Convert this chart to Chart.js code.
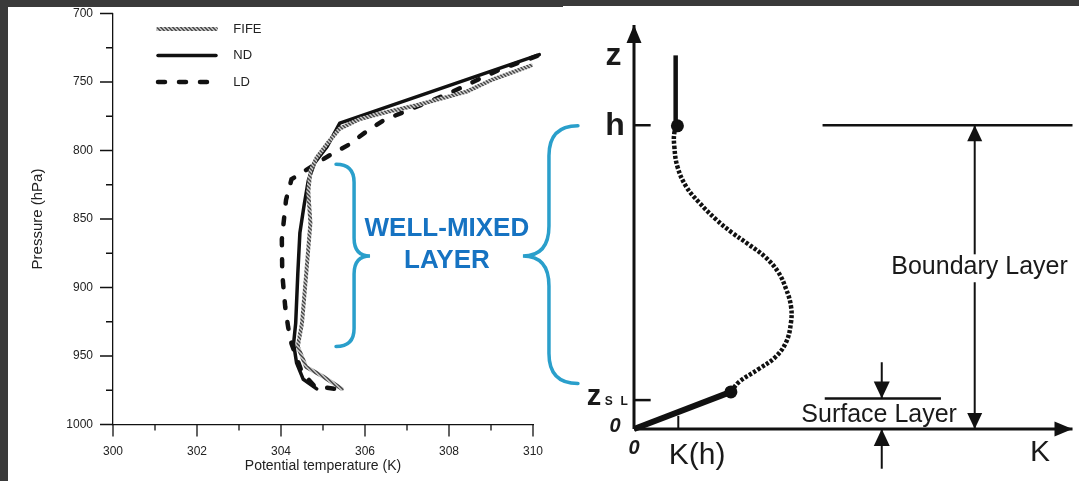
<!DOCTYPE html>
<html>
<head>
<meta charset="utf-8">
<script src="https://cdn.jsdelivr.net/npm/chart.js@4.4.1/dist/chart.umd.min.js"></script>
<style>
  html, body { margin: 0; padding: 0; background: #3a3a3a; width: 1079px; height: 481px; overflow: hidden; }
  .panel { position: absolute; background: #fff; }
  #leftPanel { left: 8px; top: 7px; width: 555px; height: 474px; }
  #rightPanel { left: 563px; top: 6px; width: 516px; height: 475px; }
  #leftChart { position: absolute; left: 8px; top: 7px; z-index: 2; }
  #rightChart { position: absolute; left: 563px; top: 6px; z-index: 1; }
</style>
</head>
<body>
<div class="panel" id="leftPanel"></div>
<div class="panel" id="rightPanel"></div>
<canvas id="rightChart" width="516" height="475"></canvas>
<canvas id="leftChart" width="582" height="474"></canvas>
<script>
const FONT = "'Liberation Sans', Arial, Helvetica, sans-serif";

// ---- left: potential temperature profiles ----
const tempTicks = [300, 302, 304, 306, 308, 310];
const presTicks = [700, 750, 800, 850, 900, 950, 1000];

const fifeTemp = [309.95, 309.05, 308.42, 307.94, 307.23, 306.51, 305.88, 305.4, 305.1, 304.85, 304.7, 304.65, 304.7, 304.6, 304.5, 304.4, 304.6, 305.0, 305.45];
const fifePres = [738, 748, 757, 761, 767, 772, 777, 784, 795, 805, 815, 830, 853, 890, 926, 943, 958, 965, 974];

const ndTemp = [310.15, 305.4, 305.1, 304.8, 304.65, 304.55, 304.45, 304.4, 304.35, 304.3, 304.37, 304.53, 304.85];
const ndPres = [730, 780, 797, 809, 822, 840, 860, 890, 926, 941, 955, 967, 974];

const ldTemp = [310.1, 309.2, 308.78, 308.3, 307.87, 307.39, 306.44, 306.04, 305.6, 305.13, 304.25, 304.12, 304.02, 304.03, 304.1, 304.17, 304.25, 304.5, 304.8, 305.3];
const ldPres = [731, 741, 747, 754, 760, 766, 778, 786, 796, 804, 821, 836, 865, 890, 914, 929, 941, 962, 972, 974];

// ---- right: K profile schematic (K in units of K(h), z in units of h) ----
const profileK = [2.21, 2.39, 2.84, 3.22, 3.47, 3.58, 3.58, 3.47, 3.29, 3.0, 2.61, 2.23, 1.87, 1.49, 1.19, 0.99, 0.92, 0.92, 0.99];
const profileZ = [0.122, 0.154, 0.197, 0.236, 0.286, 0.351, 0.404, 0.46, 0.516, 0.565, 0.608, 0.647, 0.69, 0.745, 0.798, 0.864, 0.929, 0.975, 0.998];
const surfK = [0, 2.21], surfZ = [0, 0.122];
const aboveK = [0.95, 0.95], aboveZ = [1, 1.23];
const dotK = [2.21, 0.99], dotZ = [0.122, 0.998];
const zAxisK = [0, 0], zAxisZ = [0, 1.33];
const kAxisK = [0, 10], kAxisZ = [0, 0];
const hTickK = [0, 0.38], hTickZ = [1, 1];
const slTickK = [0, 0.38], slTickZ = [0.095, 0.095];
const khMarkK = [1.01, 1.01], khMarkZ = [0, 0.043];
const blTopK = [4.3, 10], blTopZ = [1, 1];
const slTopK = [4.35, 7.0], slTopZ = [0.1, 0.1];
const blUpK = [7.77, 7.77], blUpZ = [0.575, 1];
const blDownK = [7.77, 7.77], blDownZ = [0.483, 0];
const slDownK = [5.65, 5.65], slDownZ = [0.22, 0.1];
const slUpK = [5.65, 5.65], slUpZ = [-0.131, 0];

Chart.defaults.font.family = FONT;
Chart.defaults.color = '#222';

function pts(xs, ys) {
    return xs.map(function (x, i) { return { x: x, y: ys[i] }; });
}

function ropePattern() {
    let c = document.createElement('canvas');
    c.width = 4; c.height = 4;
    let g = c.getContext('2d');
    g.fillStyle = '#bdbdbd';
    g.fillRect(0, 0, 4, 4);
    g.fillStyle = '#555';
    for (let i = 0; i < 4; i++) {
        g.fillRect(i, i, 1, 1);
        g.fillRect((i + 1) % 4, i, 1, 1);
    }
    return g.createPattern(c, 'repeat');
}

function brace(ctx, xEnd, xSpine, xTip, yTop, yMid, yBot, r) {
    ctx.beginPath();
    ctx.moveTo(xEnd, yTop);
    ctx.quadraticCurveTo(xSpine, yTop, xSpine, yTop + r);
    ctx.lineTo(xSpine, yMid - r);
    ctx.quadraticCurveTo(xSpine, yMid, xTip, yMid);
    ctx.quadraticCurveTo(xSpine, yMid, xSpine, yMid + r);
    ctx.lineTo(xSpine, yBot - r);
    ctx.quadraticCurveTo(xSpine, yBot, xEnd, yBot);
    ctx.stroke();
}

// braces in data units of the left chart
const braceLeft = { tEnd: 305.31, tSpine: 305.74, tTip: 306.12, pTop: 810, pMid: 877, pBot: 943, r: 18 };
const braceRight = { tEnd: 311.07, tSpine: 310.38, tTip: 309.76, pTop: 782, pMid: 877, pBot: 970, r: 30 };

const leftDecor = {
    id: 'leftDecor',
    afterLayout(chart) {
        let a = chart.chartArea;
        chart.legend.left = a.left + 31.5;
        chart.legend.top = a.top - 4.5;
    },
    afterDraw(chart) {
        let ctx = chart.ctx, a = chart.chartArea, x = chart.scales.x, y = chart.scales.y;
        ctx.save();
        ctx.strokeStyle = '#111';
        ctx.lineWidth = 1.3;
        ctx.beginPath();
        tempTicks.forEach(function (t, i) {
            let px = x.getPixelForValue(t);
            ctx.moveTo(px, a.bottom); ctx.lineTo(px, a.bottom + 12);
            if (i < tempTicks.length - 1) {
                let mx = x.getPixelForValue((t + tempTicks[i + 1]) / 2);
                ctx.moveTo(mx, a.bottom); ctx.lineTo(mx, a.bottom + 6);
            }
        });
        presTicks.forEach(function (p, i) {
            let py = y.getPixelForValue(p);
            ctx.moveTo(a.left, py); ctx.lineTo(a.left - 13, py);
            if (i < presTicks.length - 1) {
                let my = y.getPixelForValue((p + presTicks[i + 1]) / 2);
                ctx.moveTo(a.left, my); ctx.lineTo(a.left - 7, my);
            }
        });
        ctx.stroke();

        ctx.strokeStyle = '#2a9fcb';
        ctx.lineWidth = 3.5;
        ctx.lineCap = 'round';
        [braceLeft, braceRight].forEach(function (b) {
            brace(ctx, x.getPixelForValue(b.tEnd), x.getPixelForValue(b.tSpine), x.getPixelForValue(b.tTip),
                y.getPixelForValue(b.pTop), y.getPixelForValue(b.pMid), y.getPixelForValue(b.pBot), b.r);
        });

        ctx.fillStyle = '#1673c2';
        ctx.font = 'bold 26px ' + FONT;
        ctx.textAlign = 'center';
        ctx.textBaseline = 'alphabetic';
        ctx.fillText('WELL-MIXED', x.getPixelForValue(307.95), y.getPixelForValue(862.4));
        ctx.fillText('LAYER', x.getPixelForValue(307.95), y.getPixelForValue(885.8));
        ctx.restore();
    }
};

let rope = ropePattern();

let leftChart = new Chart(document.getElementById('leftChart'), {
    type: 'scatter',
    data: {
        datasets: [{
            label: 'FIFE',
            data: pts(fifeTemp, fifePres),
            showLine: true, pointRadius: 0, clip: false,
            borderColor: rope, backgroundColor: rope,
            borderWidth: 4, borderCapStyle: 'round', borderJoinStyle: 'round'
        }, {
            label: 'ND',
            data: pts(ndTemp, ndPres),
            showLine: true, pointRadius: 0, clip: false,
            borderColor: '#111', backgroundColor: '#111',
            borderWidth: 3.5, borderCapStyle: 'round', borderJoinStyle: 'round'
        }, {
            label: 'LD',
            data: pts(ldTemp, ldPres),
            showLine: true, pointRadius: 0, clip: false,
            borderColor: '#111', backgroundColor: '#111',
            borderWidth: 4.5, borderDash: [7, 14], borderCapStyle: 'round'
        }]
    },
    options: {
        responsive: false,
        animation: false,
        layout: { padding: { left: 0, right: 57, top: 6.5, bottom: 0 } },
        scales: {
            x: {
                type: 'linear', min: 300, max: 310,
                grid: { display: false, drawTicks: false },
                border: { display: true, color: '#111', width: 1.3 },
                ticks: { padding: 20, color: '#222', font: { size: 12 }, maxRotation: 0, callback: function (v) { return String(v); } },
                afterBuildTicks: function (s) { s.ticks = tempTicks.map(function (v) { return { value: v }; }); },
                afterFit: function (s) { s.height = 56.5; s.paddingLeft = 0; s.paddingRight = 0; },
                title: { display: true, text: 'Potential temperature (K)', color: '#222', font: { size: 14 }, padding: { top: 0, bottom: 6.6 } }
            },
            y: {
                type: 'linear', min: 700, max: 1000, reverse: true,
                grid: { display: false, drawTicks: false },
                border: { display: true, color: '#111', width: 1.3 },
                ticks: { padding: 20, color: '#222', font: { size: 12 }, callback: function (v) { return String(v); } },
                afterBuildTicks: function (s) { s.ticks = presTicks.map(function (v) { return { value: v }; }); },
                afterFit: function (s) { s.width = 105; s.paddingTop = 0; s.paddingBottom = 0; },
                title: { display: true, text: 'Pressure (hPa)', color: '#222', font: { size: 15 }, padding: { top: 20.5, bottom: 0 } }
            }
        },
        plugins: {
            legend: {
                position: 'chartArea',
                align: 'start',
                fullSize: false,
                labels: {
                    usePointStyle: true, pointStyle: 'line', pointStyleWidth: 58,
                    boxHeight: 13, padding: 13.5, color: '#222', font: { size: 13 },
                    generateLabels: function (chart) {
                        let items = Chart.defaults.plugins.legend.labels.generateLabels(chart);
                        items.forEach(function (it, i) {
                            let ds = chart.data.datasets[i];
                            it.text = '   ' + it.text;
                            it.strokeStyle = ds.borderColor;
                            it.lineWidth = ds.borderWidth;
                            it.lineDash = ds.borderDash || [];
                            it.lineCap = ds.borderCapStyle;
                        });
                        return items;
                    }
                }
            },
            tooltip: { enabled: false }
        }
    },
    plugins: [leftDecor]
});

// ---- right chart ----
const diagramText = [
    { text: 'z', k: -0.47, z: 1.199, font: 'bold 32px' },
    { text: 'h', k: -0.43, z: 0.969, font: 'bold 32px' },
    { text: 'z', k: -0.91, z: 0.079, font: 'bold 29px' },
    { text: 'S', k: -0.574, z: 0.079, font: 'bold 12px' },
    { text: 'L', k: -0.225, z: 0.079, font: 'bold 12px' },
    { text: '0', k: -0.43, z: -0.01, font: 'italic bold 20px' },
    { text: '0', k: 0, z: -0.082, font: 'italic bold 20px' },
    { text: 'K(h)', k: 1.44, z: -0.115, font: '30px' },
    { text: 'K', k: 9.26, z: -0.105, font: '30px' },
    { text: 'Boundary Layer', k: 7.88, z: 0.509, font: '25px' },
    { text: 'Surface Layer', k: 5.59, z: 0.023, font: '25px' }
];

const rightDecor = {
    id: 'rightDecor',
    afterDatasetsDraw(chart) {
        let ctx = chart.ctx, x = chart.scales.x, y = chart.scales.y;
        ctx.save();
        ctx.fillStyle = '#111';
        chart.data.datasets.forEach(function (ds, i) {
            if (!ds.arrowLen) return;
            let el = chart.getDatasetMeta(i).data;
            let p1 = el[el.length - 2], p2 = el[el.length - 1];
            let ang = Math.atan2(p2.y - p1.y, p2.x - p1.x);
            ctx.save();
            ctx.translate(p2.x, p2.y);
            ctx.rotate(ang);
            ctx.beginPath();
            ctx.moveTo(0, 0);
            ctx.lineTo(-ds.arrowLen, -ds.arrowHalf);
            ctx.lineTo(-ds.arrowLen, ds.arrowHalf);
            ctx.closePath();
            ctx.fill();
            ctx.restore();
        });
        ctx.fillStyle = '#1a1a1a';
        ctx.textAlign = 'center';
        ctx.textBaseline = 'alphabetic';
        diagramText.forEach(function (t) {
            ctx.font = t.font + ' ' + FONT;
            ctx.fillText(t.text, x.getPixelForValue(t.k), y.getPixelForValue(t.z));
        });
        ctx.restore();
    }
};

function seg(xs, ys, width, extra) {
    return Object.assign({
        data: pts(xs, ys), showLine: true, pointRadius: 0, clip: false,
        borderColor: '#111', borderWidth: width, borderCapStyle: 'butt'
    }, extra || {});
}

let rightChart = new Chart(document.getElementById('rightChart'), {
    type: 'scatter',
    data: {
        datasets: [
            seg(zAxisK, zAxisZ, 3, { arrowLen: 18, arrowHalf: 7.5 }),
            seg(kAxisK, kAxisZ, 3, { arrowLen: 18, arrowHalf: 7.5 }),
            seg(hTickK, hTickZ, 2.5),
            seg(slTickK, slTickZ, 2.5),
            seg(khMarkK, khMarkZ, 2),
            seg(surfK, surfZ, 6),
            seg(aboveK, aboveZ, 4.5),
            seg(profileK, profileZ, 4.5, { borderDash: [3.2, 1.8], tension: 0.4 }),
            seg(blTopK, blTopZ, 2.5),
            seg(slTopK, slTopZ, 2.5),
            seg(blUpK, blUpZ, 2, { arrowLen: 16, arrowHalf: 7.5 }),
            seg(blDownK, blDownZ, 2, { arrowLen: 16, arrowHalf: 7.5 }),
            seg(slDownK, slDownZ, 2, { arrowLen: 17, arrowHalf: 8 }),
            seg(slUpK, slUpZ, 2, { arrowLen: 17, arrowHalf: 8 }),
            {
                data: pts(dotK, dotZ), showLine: false, clip: false,
                pointRadius: 6.5, backgroundColor: '#111', borderColor: '#111', borderWidth: 0
            }
        ]
    },
    options: {
        responsive: false,
        animation: false,
        layout: { padding: { left: 71, right: 1, top: 19, bottom: 5.3 } },
        scales: {
            x: { type: 'linear', display: false, min: 0, max: 10 },
            y: { type: 'linear', display: false, min: -0.15, max: 1.33 }
        },
        plugins: { legend: { display: false }, tooltip: { enabled: false } }
    },
    plugins: [rightDecor]
});
</script>
</body>
</html>
